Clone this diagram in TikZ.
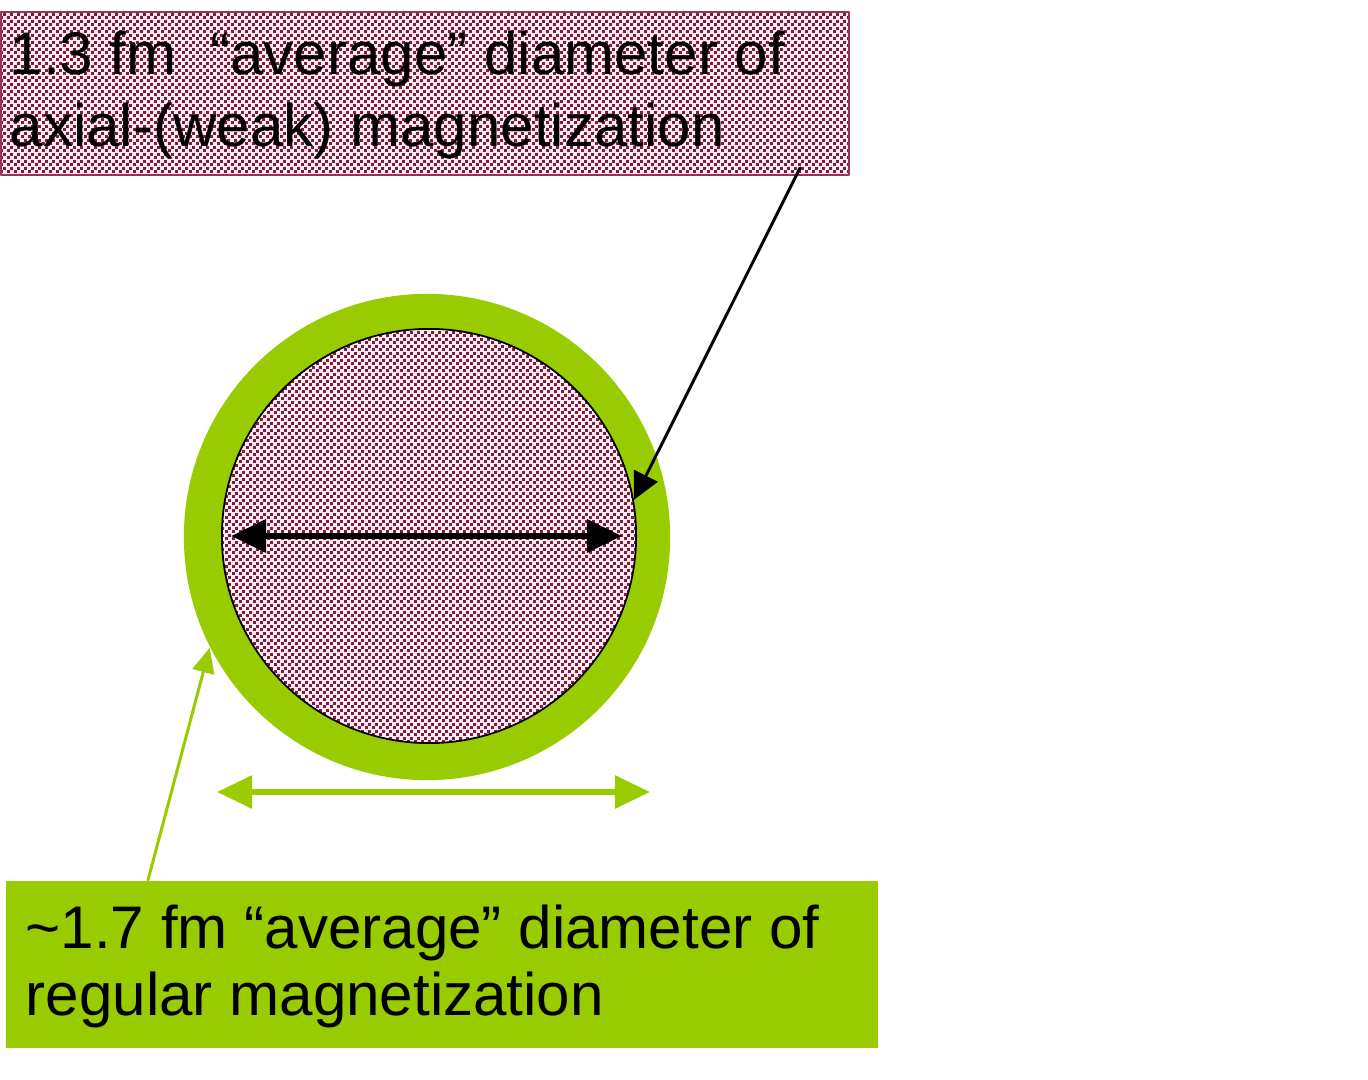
\documentclass[tikz,border=0pt]{standalone}
\usepackage{fontspec}
\setmainfont{Liberation Sans}
\usetikzlibrary{arrows.meta,patterns}

\definecolor{limegreen}{HTML}{99CC00}
\definecolor{magred}{HTML}{7A1E3C}
\definecolor{magpink}{HTML}{FFEAF4}
\definecolor{magedge}{HTML}{993355}

\pgfdeclarepatternformonly{magweave}{\pgfpointorigin}{\pgfpoint{2pt}{2pt}}{\pgfpoint{2pt}{2pt}}{%
  \pgfpathrectangle{\pgfpointorigin}{\pgfpoint{0.9pt}{0.9pt}}%
  \pgfpathrectangle{\pgfpoint{1pt}{1pt}}{\pgfpoint{0.9pt}{0.9pt}}%
  \pgfusepath{fill}}

\tikzset{
  magfill/.style={preaction={fill=magpink}, pattern=magweave, pattern color=magred},
  bigtext/.style={anchor=base west, inner sep=0pt, font=\fontsize{17.1}{20}\selectfont},
  bigtip/.tip={Triangle[length=0.35cm,width=0.32cm]},
  smalltip/.tip={Triangle[length=0.27cm,width=0.26cm]}
}

\begin{document}
\begin{tikzpicture}[line cap=round,line join=round,x=0.01cm,y=-0.01cm]
        \useasboundingbox (0,0) rectangle (1368,1080);
        \fill [white] (0,0) rectangle (1368,1080);
        \node [magfill, draw=magedge, line width=0.6pt, anchor=north west, inner sep=0pt, minimum width=8.47cm, minimum height=1.63cm] (axialbox) at (0,11) {};
        \node [bigtext] (axialA) at (9,75) {1.3 fm\ \ “average” diameter of};
        \node [bigtext] (axialB) at (9,147) {axial-(weak) magnetization};
        \node [fill=limegreen, anchor=north west, inner sep=0pt, minimum width=8.72cm, minimum height=1.67cm] (regbox) at (5,880) {};
        \node [bigtext] (regA) at (25,948) {\textasciitilde1.7 fm “average” diameter of};
        \node [bigtext] (regB) at (25,1015) {regular magnetization};
        \node [circle, fill=limegreen, inner sep=0pt, minimum size=4.86cm] (ring) at (427,537) {};
        \node [circle, magfill, draw=black, line width=0.5pt, inner sep=0pt, minimum size=4.14cm] (core) at (429,536) {};
        \draw [line width=1.9pt, bigtip-bigtip] ([xshift=0.1cm]core.west) -- ([xshift=-0.15cm]core.east);
        \coordinate (axtail) at (800,168);
        \draw [line width=0.85pt, -smalltip] (axtail) -- (core.10);
        \coordinate (regtail) at (148,880);
        \draw [limegreen, line width=0.85pt, -{Triangle[length=0.25cm,width=0.22cm]}] (regtail) -- (ring.207);
        \coordinate (dimL) at (217,792);
        \coordinate (dimR) at (650,792);
        \draw [limegreen, line width=1.7pt, bigtip-bigtip] (dimL) -- (dimR);
    \end{tikzpicture}
\end{document}
